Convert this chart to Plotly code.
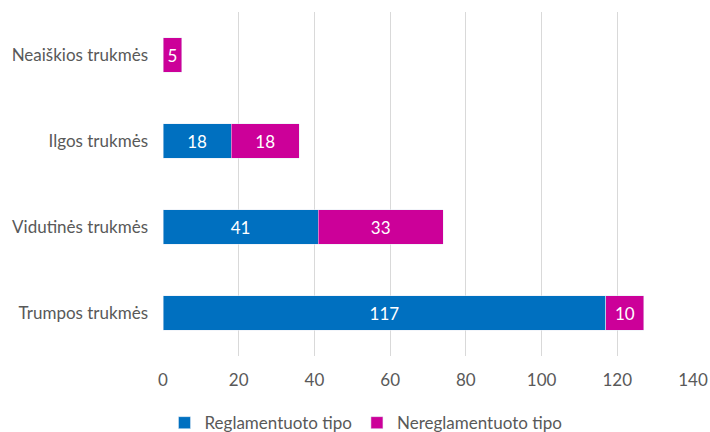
import plotly.graph_objects as go

# Datos
categorias = ["Trumpos trukmės", "Vidutinės trukmės", "Ilgos trukmės", "Neaiškios trukmės"]
reglamentuoto = [117, 41, 18, None]
nereglamentuoto = [10, 33, 18, 5]
x_ticks = [0, 20, 40, 60, 80, 100, 120, 140]

blue = "#0070C0"
magenta = "#CC0099"
text_color = "#595959"
font_family = "Lato, 'Open Sans', sans-serif"

fig = go.Figure()
fig.add_trace(go.Bar(
    y=categorias, x=reglamentuoto, orientation="h", name="Reglamentuoto tipo",
    marker=dict(color=blue), text=reglamentuoto, textposition="inside",
    insidetextanchor="middle", textfont=dict(color="white", size=17, family=font_family),
))
fig.add_trace(go.Bar(
    y=categorias, x=nereglamentuoto, orientation="h", name="Nereglamentuoto tipo",
    marker=dict(color=magenta), text=nereglamentuoto, textposition="inside",
    insidetextanchor="middle", textfont=dict(color="white", size=17, family=font_family),
))

fig.update_layout(
    barmode="stack",
    bargap=0.6,
    width=710, height=432,
    paper_bgcolor="white", plot_bgcolor="white",
    font=dict(family=font_family, color=text_color, size=17),
    margin=dict(l=163, r=17, t=12, b=76, autoexpand=False),
    uniformtext=dict(mode=False),
    xaxis=dict(range=[0, 140], tickvals=x_ticks, showgrid=True, gridcolor="#D9D9D9",
               gridwidth=1, zeroline=False, showline=False, ticks="", automargin=False,
               ticklabelstandoff=12, tickfont=dict(size=17, color=text_color)),
    yaxis=dict(showgrid=False, showline=False, ticks="", ticklabelstandoff=14,
               automargin=False, tickfont=dict(size=17, color=text_color)),
    legend=dict(orientation="h", x=0.383, xanchor="center", xref="paper",
                y=-0.195, yanchor="middle", yref="paper",
                font=dict(size=17, color=text_color), itemwidth=30,
                traceorder="normal"),
)

# quitar el margen por defecto del body para que la figura empiece en (0, 0)
fig.write_html("out.html", config={"displayModeBar": False},
               post_script="document.body.style.margin='0';document.body.style.overflow='hidden';")
